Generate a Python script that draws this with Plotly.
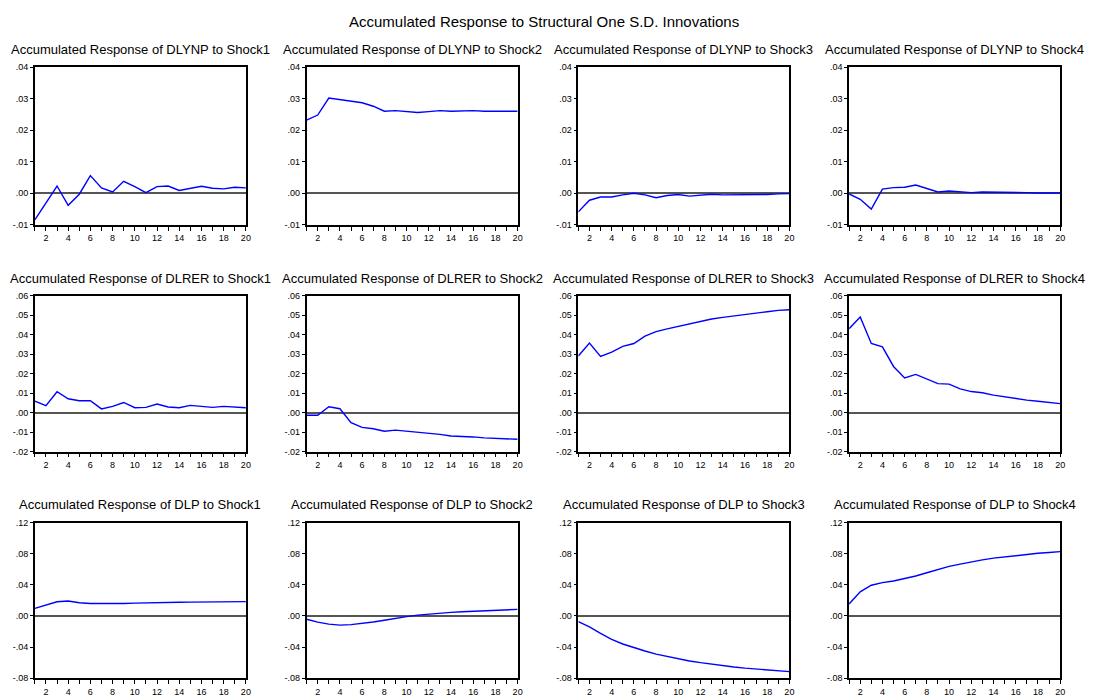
import plotly.graph_objects as go

# Horizon (periods after the shock)
periods = list(range(1, 21))

# Accumulated responses of DLYNP
dlynp_shock1 = [-0.0084, -0.0030, 0.0023, -0.0038, -0.0003, 0.0056, 0.0017, 0.0004, 0.0038, 0.0021,
                0.0002, 0.0021, 0.0023, 0.0009, 0.0015, 0.0022, 0.0016, 0.0014, 0.0019, 0.0017]
dlynp_shock2 = [0.0232, 0.0248, 0.0302, 0.0297, 0.0290, 0.0287, 0.0276, 0.0260, 0.0262, 0.0258,
                0.0256, 0.0259, 0.0262, 0.0260, 0.0261, 0.0262, 0.0260, 0.0260, 0.0260, 0.0260]
dlynp_shock3 = [-0.0059, -0.0022, -0.0012, -0.0012, -0.0005, 0.0000, -0.0005, -0.0014, -0.0007, -0.0004,
                -0.0009, -0.0006, -0.0003, -0.0005, -0.0005, -0.0003, -0.0003, -0.0004, -0.0002, -0.0001]
dlynp_shock4 = [-0.0002, -0.0019, -0.0050, 0.0013, 0.0018, 0.0019, 0.0026, 0.0015, 0.0004, 0.0007,
                0.0004, 0.0002, 0.0004, 0.0004, 0.0002, 0.0002, 0.0002, 0.0001, 0.0001, 0.0001]

# Accumulated responses of DLRER
dlrer_shock1 = [0.0059, 0.0036, 0.0107, 0.0071, 0.0061, 0.0061, 0.0019, 0.0032, 0.0052, 0.0025,
                0.0027, 0.0044, 0.0029, 0.0025, 0.0037, 0.0032, 0.0027, 0.0032, 0.0030, 0.0025]
dlrer_shock2 = [-0.0014, -0.0014, 0.0030, 0.0020, -0.0052, -0.0076, -0.0083, -0.0096, -0.0090, -0.0095,
                -0.0103, -0.0107, -0.0112, -0.0120, -0.0122, -0.0125, -0.0130, -0.0132, -0.0134, -0.0137]
dlrer_shock3 = [0.0291, 0.0357, 0.0289, 0.0311, 0.0340, 0.0355, 0.0393, 0.0416, 0.0430, 0.0443,
                0.0455, 0.0470, 0.0481, 0.0489, 0.0497, 0.0506, 0.0511, 0.0518, 0.0525, 0.0528]
dlrer_shock4 = [0.0431, 0.0491, 0.0355, 0.0338, 0.0237, 0.0178, 0.0196, 0.0173, 0.0149, 0.0146,
                0.0122, 0.0108, 0.0102, 0.0090, 0.0080, 0.0073, 0.0064, 0.0058, 0.0051, 0.0046]

# Accumulated responses of DLP
dlp_shock1 = [0.0097, 0.0140, 0.0182, 0.0191, 0.0170, 0.0160, 0.0158, 0.0158, 0.0160, 0.0165,
              0.0170, 0.0174, 0.0175, 0.0176, 0.0178, 0.0178, 0.0179, 0.0181, 0.0183, 0.0184]
dlp_shock2 = [-0.0042, -0.0080, -0.0105, -0.0118, -0.0112, -0.0098, -0.0078, -0.0055, -0.0030, -0.0008,
              0.0010, 0.0025, 0.0037, 0.0046, 0.0053, 0.0059, 0.0065, 0.0072, 0.0078, 0.0084]
dlp_shock3 = [-0.0072, -0.0140, -0.0225, -0.0300, -0.0360, -0.0410, -0.0450, -0.0490, -0.0522, -0.0552,
              -0.0578, -0.0600, -0.0620, -0.0638, -0.0655, -0.0670, -0.0683, -0.0695, -0.0705, -0.0715]
dlp_shock4 = [0.0153, 0.0309, 0.0394, 0.0428, 0.0449, 0.0479, 0.0513, 0.0555, 0.0597, 0.0636,
              0.0665, 0.0695, 0.0720, 0.0742, 0.0758, 0.0775, 0.0792, 0.0805, 0.0814, 0.0826]

variables = ["DLYNP", "DLRER", "DLP"]
shocks = ["Shock1", "Shock2", "Shock3", "Shock4"]
responses = [
    [dlynp_shock1, dlynp_shock2, dlynp_shock3, dlynp_shock4],
    [dlrer_shock1, dlrer_shock2, dlrer_shock3, dlrer_shock4],
    [dlp_shock1, dlp_shock2, dlp_shock3, dlp_shock4],
]

# y-axis ticks for each row
row_tickvals = [
    [-0.01, 0.00, 0.01, 0.02, 0.03, 0.04],
    [-0.02, -0.01, 0.00, 0.01, 0.02, 0.03, 0.04, 0.05, 0.06],
    [-0.08, -0.04, 0.00, 0.04, 0.08, 0.12],
]
row_ticktext = [
    ["-.01", ".00", ".01", ".02", ".03", ".04"],
    ["-.02", "-.01", ".00", ".01", ".02", ".03", ".04", ".05", ".06"],
    ["-.08", "-.04", ".00", ".04", ".08", ".12"],
]
x_ticktext = [str(p) if p % 2 == 0 else "" for p in periods]

W, H = 1093, 700
col_px = [(35, 247), (308, 520), (581, 793), (853, 1065)]
row_px = [(63, 223), (295, 453), (525, 683)]
title_y_px = [45, 277, 507]

FONT = "Arial, 'Liberation Sans', sans-serif"

fig = go.Figure()
layout = dict(
    width=W, height=H,
    margin=dict(l=0, r=0, t=0, b=0),
    paper_bgcolor="white", plot_bgcolor="white",
    showlegend=False,
    font=dict(family=FONT, color="black"),
)
annotations = []

for r in range(3):
    for c in range(4):
        k = r * 4 + c + 1
        xa = "xaxis" if k == 1 else f"xaxis{k}"
        ya = "yaxis" if k == 1 else f"yaxis{k}"
        xref = "x" if k == 1 else f"x{k}"
        yref = "y" if k == 1 else f"y{k}"
        fig.add_trace(go.Scatter(
            x=periods, y=responses[r][c], mode="lines",
            line=dict(color="#0000FF", width=1.4),
            xaxis=xref, yaxis=yref, hoverinfo="x+y",
        ))
        x0, x1 = col_px[c]
        y0, y1 = row_px[r]
        yv = row_tickvals[r]
        layout[xa] = dict(
            domain=[x0 / W, x1 / W], anchor=yref, range=[1, 20],
            tickmode="array", tickvals=periods, ticktext=x_ticktext,
            ticks="outside", ticklen=4, tickwidth=1, tickcolor="black",
            showline=True, mirror=True, linecolor="black", linewidth=1.6,
            showgrid=False, zeroline=False,
            tickfont=dict(family=FONT, size=9, color="black"),
        )
        layout[ya] = dict(
            domain=[1 - y1 / H, 1 - y0 / H], anchor=xref, range=[yv[0], yv[-1]],
            tickmode="array", tickvals=yv, ticktext=row_ticktext[r],
            ticks="outside", ticklen=3, tickwidth=1, tickcolor="black",
            showline=True, mirror=True, linecolor="black", linewidth=1.6,
            showgrid=False, zeroline=True, zerolinecolor="#555555", zerolinewidth=2,
            tickfont=dict(family=FONT, size=9, color="black"),
        )
        annotations.append(dict(
            text=f"Accumulated Response of {variables[r]} to {shocks[c]}",
            x=(x0 + x1) / 2 / W, y=1 - title_y_px[r] / H,
            xref="paper", yref="paper", xanchor="center", yanchor="middle",
            showarrow=False, font=dict(family=FONT, size=13, color="black"),
        ))

annotations.append(dict(
    text="Accumulated Response to Structural One S.D. Innovations",
    x=0.5, y=1 - 17 / H, xref="paper", yref="paper",
    xanchor="center", yanchor="middle", showarrow=False,
    font=dict(family=FONT, size=15, color="black"),
))
layout["annotations"] = annotations
fig.update_layout(**layout)

fig.write_html("out.html")
